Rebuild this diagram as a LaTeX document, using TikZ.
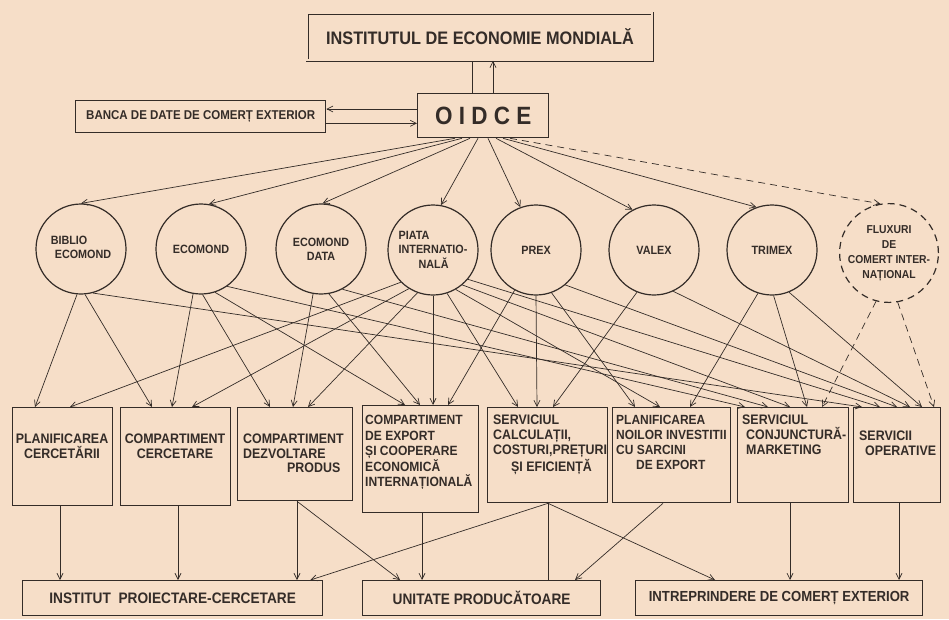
\documentclass[tikz,border=0pt]{standalone}
\usepackage{fontspec}
\setmainfont{Liberation Sans}[FakeStretch=0.9]
\usetikzlibrary{arrows.meta,calc}
\definecolor{paper}{RGB}{246,222,200}
\definecolor{ink}{RGB}{52,44,40}
\tikzset{
  boxn/.style={draw=ink, line width=1.3pt, rectangle, inner sep=0pt, anchor=north west},
  circn/.style={draw=ink, line width=1.2pt, circle, minimum size=90pt, inner sep=0pt, align=center, text=ink, font=\bfseries\fontsize{12}{14}\selectfont},
  txt/.style={text=ink, inner sep=0pt, font=\bfseries\fontsize{13.8}{14.5}\selectfont},
  arr/.style={draw=ink, line width=0.7pt, -{Straight Barb[length=6pt,width=6pt]}},
  ln/.style={draw=ink, line width=0.7pt},
  dsh/.style={dash pattern=on 7pt off 5pt}
}
\begin{document}
\begin{tikzpicture}[x=1pt,y=-1pt]
\useasboundingbox (0,0) rectangle (949,619);
\fill[paper] (0,0) rectangle (949,619);

% top boxes
\node[boxn, minimum width=345pt, minimum height=47pt, double=paper, double distance=2pt, line width=0.9pt] (inst) at (307,13) {};
\node[txt, font=\bfseries\fontsize{18.1}{20}\selectfont] (instt) at (inst.center) {INSTITUTUL DE ECONOMIE MONDIALĂ};
\node[boxn, minimum width=131pt, minimum height=44pt] (oidce) at (417,93) {};
\node[txt, font=\bfseries\fontsize{25}{28}\selectfont] (oidcet) at (oidce.center) {O I D C E};
\node[boxn, minimum width=250pt, minimum height=32pt] (banca) at (75,100) {};
\node[txt, font=\bfseries\fontsize{12.8}{15}\selectfont] (bancat) at (banca.center) {BANCA DE DATE DE COMERȚ EXTERIOR};

% top connectors
\coordinate (t1) at ($(oidce.north west)+(55,0)$);
\draw[ln] (t1) -- (t1 |- inst.south);
\coordinate (t2) at ($(oidce.north west)+(76,0)$);
\draw[arr] (t2) -- (t2 |- inst.south);
\coordinate (bb1) at ($(oidce.north west)+(0,16)$);
\draw[arr] (bb1) -- (bb1 -| banca.east);
\coordinate (bb2) at ($(banca.south east)+(0,-10)$);
\draw[arr] (bb2) -- (bb2 -| oidce.west);

% circles
\node[circn] (c1) at (81,249) {\begin{tabular}{@{}l@{}}BIBLIO\\\hspace*{4pt}ECOMOND\end{tabular}};
\node[circn] (c2) at (201,249) {ECOMOND};
\node[circn] (c3) at (321,249) {ECOMOND\\DATA};
\node[circn] (c4) at (433,250) {\begin{tabular}{@{}l@{}}\rule{0pt}{12pt}PIATA\\INTERNATIO-\\\hspace*{20pt}NALĂ\end{tabular}};
\node[circn] (c5) at (536,250) {PREX};
\node[circn] (c6) at (654,250) {VALEX};
\node[circn] (c7) at (772,250) {TRIMEX};
\node[circn, dsh, font=\bfseries\fontsize{11.5}{15}\selectfont] (c8) at (889,253) {FLUXURI\\DE\\COMERT INTER-\\NAȚIONAL};

% OIDCE -> circles
\draw[arr] ($(oidce.south west)+(38,0)$) -- (c1.90);
\draw[arr] ($(oidce.south west)+(45,0)$) -- (c2.80);
\draw[arr] ($(oidce.south west)+(53,0)$) -- (c3.88);
\draw[arr] ($(oidce.south west)+(61,0)$) -- (c4.80);
\draw[arr] ($(oidce.south west)+(71,0)$) -- (c5.110);
\draw[arr] ($(oidce.south west)+(79,0)$) -- (c6.118);
\draw[arr] ($(oidce.south west)+(86,0)$) -- (c7.110);
\draw[arr, dsh] ($(oidce.south west)+(93,0)$) -- (c8.100);

% middle boxes
\node[boxn, minimum width=100pt, minimum height=98pt] (b1) at (12,407) {};
\node[boxn, minimum width=110pt, minimum height=98pt] (b2) at (120,407) {};
\node[boxn, minimum width=115pt, minimum height=93pt] (b3) at (237,407) {};
\node[boxn, minimum width=116pt, minimum height=107pt] (b4) at (362,405) {};
\node[boxn, minimum width=120pt, minimum height=95pt] (b5) at (487,407) {};
\node[boxn, minimum width=118pt, minimum height=95pt] (b6) at (612,407) {};
\node[boxn, minimum width=111pt, minimum height=95pt] (b7) at (737,407) {};
\node[boxn, minimum width=87pt, minimum height=95pt] (b8) at (853,407) {};

\node[txt, align=center] (b1t) at (62,446) {PLANIFICAREA\\CERCETĂRII};
\node[txt, align=center] (b2t) at (175,446) {COMPARTIMENT\\CERCETARE};
\node[txt, align=left, anchor=north west] (b3t) at (243,434) {COMPARTIMENT\\DEZVOLTARE\\\hspace*{44pt}PRODUS};
\node[txt, align=left, anchor=north west, font=\bfseries\fontsize{13.4}{15.5}\selectfont] (b4t) at (365,415) {COMPARTIMENT\\DE EXPORT\\ȘI COOPERARE\\ECONOMICĂ\\INTERNAȚIONALĂ};
\node[txt, align=left, anchor=north west, font=\bfseries\fontsize{13.8}{15}\selectfont] (b5t) at (493,415) {SERVICIUL\\CALCULAȚII,\\COSTURI,PREȚURI\\\hspace*{18pt}ȘI EFICIENȚĂ};
\node[txt, align=left, anchor=north west, font=\bfseries\fontsize{13.3}{15}\selectfont] (b6t) at (616,415) {PLANIFICAREA\\NOILOR INVESTITII\\CU SARCINI\\\hspace*{20pt}DE EXPORT};
\node[txt, align=left, anchor=north west, font=\bfseries\fontsize{13.8}{15}\selectfont] (b7t) at (742,415) {SERVICIUL\\\hspace*{4pt}CONJUNCTURĂ-\\\hspace*{4pt}MARKETING};
\node[txt, align=left, anchor=north west, font=\bfseries\fontsize{13.8}{15}\selectfont] (b8t) at (859,431) {SERVICII\\\hspace*{6pt}OPERATIVE};

% circles -> boxes
\draw[arr] (c1.-95) -- ($(b1.north west)+(23,0)$);
\draw[arr] (c1.-85) -- ($(b2.north west)+(32,0)$);
\draw[arr] (c1.-75) -- ($(b8.north west)+(9,0)$);
\draw[arr] (c2.-100) -- ($(b2.north west)+(52,0)$);
\draw[arr] (c2.-88) -- ($(b3.north west)+(33,0)$);
\draw[arr] (c2.-72) -- ($(b4.north west)+(43,0)$);
\draw[arr] (c2.-55) -- ($(b7.north west)+(8,0)$);
\draw[arr] (c3.-100) -- ($(b3.north west)+(56,0)$);
\draw[arr] (c3.-80) -- ($(b4.north west)+(58,0)$);
\draw[arr] (c3.-62) -- ($(b7.north west)+(31,0)$);
\draw[arr] (c4.-135) -- ($(b1.north west)+(58,0)$);
\draw[arr] (c4.-122) -- ($(b2.north west)+(72,0)$);
\draw[arr] (c4.-110) -- ($(b3.north west)+(71,0)$);
\draw[arr] (c4.-90) -- ($(b4.north west)+(71,0)$);
\draw[arr] (c4.-72) -- ($(b5.north west)+(31,0)$);
\draw[arr] (c4.-60) -- ($(b6.north west)+(48,0)$);
\draw[arr] (c4.-50) -- ($(b7.north west)+(53,0)$);
\draw[arr] (c4.-40) -- ($(b8.north west)+(27,0)$);
\draw[arr] (c5.-118) -- ($(b4.north west)+(86,0)$);
\draw[arr] (c5.-90) -- ($(b5.north west)+(50,0)$);
\draw[arr] (c5.-70) -- ($(b6.north west)+(23,0)$);
\draw[arr] (c5.-50) -- ($(b8.north west)+(44,0)$);
\draw[arr] (c6.-112) -- ($(b5.north west)+(66,0)$);
\draw[arr] (c6.-65) -- ($(b8.north west)+(57,0)$);
\draw[arr] (c7.-108) -- ($(b6.north west)+(78,0)$);
\draw[arr] (c7.-88) -- ($(b7.north west)+(70,0)$);
\draw[arr] (c7.-68) -- ($(b8.north west)+(69,0)$);
\draw[arr, dsh] (c8.-105) -- ($(b7.north west)+(85,0)$);
\draw[arr, dsh] (c8.-80) -- ($(b8.north west)+(81,0)$);

% bottom boxes
\node[boxn, minimum width=300pt, minimum height=35pt] (p1) at (22,580) {};
\node[txt, font=\bfseries\fontsize{15.2}{17}\selectfont] (p1t) at (p1.center) {INSTITUT\ \ PROIECTARE-CERCETARE};
\node[boxn, minimum width=238pt, minimum height=35pt] (p2) at (362,580) {};
\node[txt, font=\bfseries\fontsize{15.2}{17}\selectfont] (p2t) at (p2.center) {UNITATE PRODUCĂTOARE};
\node[boxn, minimum width=287pt, minimum height=35pt] (p3) at (635,580) {};
\node[txt, font=\bfseries\fontsize{14.6}{17}\selectfont] (p3t) at (p3.center) {INTREPRINDERE DE COMERȚ EXTERIOR};

% boxes -> bottom
\coordinate (l1) at ($(b1.south west)+(48,0)$);
\draw[arr] (l1) -- (l1 |- p1.north);
\coordinate (l2) at ($(b2.south west)+(58,0)$);
\draw[arr] (l2) -- (l2 |- p1.north);
\coordinate (l3) at ($(b3.south west)+(60,0)$);
\draw[arr] (l3) -- (l3 |- p1.north);
\draw[arr] (l3) -- ($(p2.north west)+(38,0)$);
\coordinate (l4) at ($(b4.south west)+(60,0)$);
\draw[arr] (l4) -- (l4 |- p2.north);
\coordinate (l5) at ($(b5.south west)+(61,0)$);
\draw[arr] (l5) -- ($(p1.north east)+(-13,0)$);
\draw[ln] (l5) -- (l5 |- p2.north);
\draw[arr] (l5) -- ($(p3.north west)+(80,0)$);
\coordinate (l6) at ($(b6.south west)+(51,0)$);
\draw[arr] (l6) -- ($(p2.north west)+(213,0)$);
\coordinate (l7) at ($(b7.south west)+(53,0)$);
\draw[arr] (l7) -- (l7 |- p3.north);
\coordinate (l8) at ($(b8.south west)+(46,0)$);
\draw[arr] (l8) -- (l8 |- p3.north);
\end{tikzpicture}
\end{document}
